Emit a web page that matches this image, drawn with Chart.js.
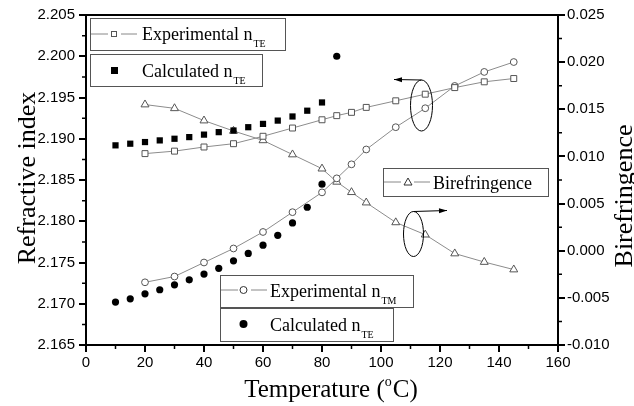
<!DOCTYPE html>
<html>
<head>
<meta charset="utf-8">
<script src="https://cdn.jsdelivr.net/npm/chart.js@4.4.0/dist/chart.umd.min.js"></script>
<style>
html, body { margin: 0; padding: 0; background: #fff; }
</style>
</head>
<body>
<canvas id="ChartIndex" width="634" height="406"></canvas>
<script>
// temperatures (oC)
var tempExp = [20, 30, 40, 50, 60, 70, 80, 85, 90, 95, 105, 115, 125, 135, 145];
var tempCalc = [10, 15, 20, 25, 30, 35, 40, 45, 50, 55, 60, 65, 70, 75, 80];
var tempCalcTM = [10, 15, 20, 25, 30, 35, 40, 45, 50, 55, 60, 65, 70, 75, 80, 85];

// refractive index
var expTE = [2.1882, 2.1885, 2.1890, 2.1894, 2.1903, 2.1913, 2.1923, 2.1928, 2.1932, 2.1938, 2.1946, 2.1954, 2.1962, 2.1969, 2.1973];
var calcTE = [2.1892, 2.1894, 2.1896, 2.1898, 2.1900, 2.1902, 2.1905, 2.1908, 2.1910, 2.1914, 2.1918, 2.1922, 2.1927, 2.1934, 2.1944];
var expTM = [2.1726, 2.1733, 2.1750, 2.1767, 2.1787, 2.1811, 2.1835, 2.1852, 2.1869, 2.1887, 2.1914, 2.1937, 2.1964, 2.1981, 2.1993];
var calcTM = [2.1702, 2.1706, 2.1712, 2.1717, 2.1723, 2.1729, 2.1736, 2.1743, 2.1752, 2.1761, 2.1771, 2.1783, 2.1798, 2.1817, 2.1845, 2.2000];

// birefringence (right axis)
var biref = [0.0155, 0.0151, 0.0138, 0.0127, 0.0117, 0.0102, 0.0087, 0.0073, 0.0062, 0.0051, 0.0030, 0.0017, -0.0003, -0.0012, -0.0020];

// axis ticks
var xTicks = [0, 20, 40, 60, 80, 100, 120, 140, 160];
var yTicks = [2.165, 2.170, 2.175, 2.180, 2.185, 2.190, 2.195, 2.200, 2.205];
var y1Ticks = [-0.010, -0.005, 0.000, 0.005, 0.010, 0.015, 0.020, 0.025];

function pts(xs, ys) {
    var out = [];
    for (var i = 0; i < ys.length; i++) out.push({x: xs[i], y: ys[i]});
    return out;
}

function setTicks(list) {
    return function(scale) {
        scale.ticks = list.map(function(v) { return {value: v}; });
    };
}

var serif = '"Liberation Serif", "Times New Roman", serif';

function subText(ctx, x, y, main, sub) {
    ctx.font = '18px ' + serif;
    ctx.fillText(main, x, y);
    var w = ctx.measureText(main).width;
    ctx.font = '10px ' + serif;
    ctx.fillText(sub, x + w + 1, y + 7);
}

function legendBox(ctx, x, y, w, h) {
    ctx.fillStyle = '#fff';
    ctx.fillRect(x, y, w, h);
    ctx.strokeStyle = '#555';
    ctx.lineWidth = 1;
    ctx.strokeRect(x + 0.5, y + 0.5, w, h);
}

function legendLine(ctx, x, y) {
    ctx.strokeStyle = '#888';
    ctx.lineWidth = 1;
    ctx.beginPath();
    ctx.moveTo(x, y); ctx.lineTo(x + 17, y);
    ctx.moveTo(x + 30, y); ctx.lineTo(x + 46, y);
    ctx.stroke();
}

function arrow(ctx, x1, y1, x2, y2) {
    ctx.strokeStyle = '#000';
    ctx.fillStyle = '#000';
    ctx.lineWidth = 1;
    ctx.beginPath();
    ctx.moveTo(x1, y1); ctx.lineTo(x2, y2);
    ctx.stroke();
    var a = Math.atan2(y2 - y1, x2 - x1);
    ctx.beginPath();
    ctx.moveTo(x2, y2);
    ctx.lineTo(x2 - 8 * Math.cos(a) + 2.5 * Math.sin(a), y2 - 8 * Math.sin(a) - 2.5 * Math.cos(a));
    ctx.lineTo(x2 - 8 * Math.cos(a) - 2.5 * Math.sin(a), y2 - 8 * Math.sin(a) + 2.5 * Math.cos(a));
    ctx.closePath();
    ctx.fill();
}

var extras = {
    id: 'extras',
    afterDraw: function(chart) {
        var ctx = chart.ctx;
        var area = chart.chartArea;
        var sx = chart.scales.x, sy = chart.scales.y, sy1 = chart.scales.y1;
        ctx.save();

        // top frame line
        ctx.strokeStyle = '#000';
        ctx.lineWidth = 2;
        ctx.beginPath();
        ctx.moveTo(area.left - 1, area.top);
        ctx.lineTo(area.right + 1, area.top);
        ctx.stroke();

        // minor ticks
        ctx.lineWidth = 1.5;
        ctx.beginPath();
        for (var i = 0; i < xTicks.length - 1; i++) {
            var px = sx.getPixelForValue((xTicks[i] + xTicks[i + 1]) / 2);
            ctx.moveTo(px, area.bottom); ctx.lineTo(px, area.bottom + 4);
        }
        for (var j = 0; j < yTicks.length - 1; j++) {
            var py = sy.getPixelForValue((yTicks[j] + yTicks[j + 1]) / 2);
            ctx.moveTo(area.left, py); ctx.lineTo(area.left - 4, py);
        }
        for (var k = 0; k < y1Ticks.length - 1; k++) {
            var py1 = sy1.getPixelForValue((y1Ticks[k] + y1Ticks[k + 1]) / 2);
            ctx.moveTo(area.right, py1); ctx.lineTo(area.right + 4, py1);
        }
        ctx.stroke();

        // axis titles
        ctx.fillStyle = '#000';
        ctx.textBaseline = 'alphabetic';
        ctx.textAlign = 'center';
        ctx.save();
        ctx.translate(35, 178);
        ctx.rotate(-Math.PI / 2);
        ctx.font = '26px ' + serif;
        ctx.fillText('Refractive index', 0, 0);
        ctx.restore();

        ctx.save();
        ctx.translate(632, 196);
        ctx.rotate(-Math.PI / 2);
        ctx.font = '26px ' + serif;
        ctx.fillText('Birefringence', 0, 0);
        ctx.restore();

        ctx.textAlign = 'left';
        ctx.font = '25px ' + serif;
        var t1 = 'Temperature (', t2 = 'C)';
        var w1 = ctx.measureText(t1).width;
        var w3 = ctx.measureText(t2).width;
        ctx.font = '14px ' + serif;
        var w2 = ctx.measureText('o').width;
        var tx = 331 - (w1 + w2 + w3 + 1) / 2;
        ctx.font = '25px ' + serif;
        ctx.fillText(t1, tx, 397);
        ctx.font = '14px ' + serif;
        ctx.fillText('o', tx + w1, 386);
        ctx.font = '25px ' + serif;
        ctx.fillText(t2, tx + w1 + w2 + 1, 397);

        // legends
        legendBox(ctx, 90, 18, 195, 32);
        legendLine(ctx, 91, 34);
        ctx.fillStyle = '#fff'; ctx.strokeStyle = '#555';
        ctx.fillRect(111, 31, 6, 6); ctx.strokeRect(111.5, 31.5, 5, 5);
        ctx.fillStyle = '#000';
        subText(ctx, 142, 40, 'Experimental n', 'TE');

        legendBox(ctx, 90, 54, 172, 32);
        ctx.fillStyle = '#000';
        ctx.fillRect(111, 67, 7, 7);
        subText(ctx, 142, 77, 'Calculated n', 'TE');

        legendBox(ctx, 383, 168, 165, 28);
        legendLine(ctx, 384, 182);
        ctx.strokeStyle = '#333'; ctx.lineWidth = 1;
        ctx.beginPath();
        ctx.moveTo(408, 178); ctx.lineTo(412, 185); ctx.lineTo(404, 185); ctx.closePath();
        ctx.stroke();
        ctx.fillStyle = '#000';
        ctx.font = '18px ' + serif;
        ctx.fillText('Birefringence', 433, 189);

        legendBox(ctx, 220, 275, 193, 32);
        legendLine(ctx, 221, 290);
        ctx.strokeStyle = '#333';
        ctx.beginPath(); ctx.arc(243.5, 290, 3.5, 0, Math.PI * 2); ctx.fillStyle = '#fff'; ctx.fill(); ctx.stroke();
        ctx.fillStyle = '#000';
        subText(ctx, 270, 297, 'Experimental n', 'TM');

        legendBox(ctx, 220, 308, 173, 33);
        ctx.fillStyle = '#000';
        ctx.beginPath(); ctx.arc(243.5, 324, 4, 0, Math.PI * 2); ctx.fill();
        subText(ctx, 270, 331, 'Calculated n', 'TE');

        // ellipses and arrows
        ctx.strokeStyle = '#000'; ctx.lineWidth = 1;
        ctx.beginPath(); ctx.ellipse(421.5, 105.5, 11, 25.5, 0, 0, Math.PI * 2); ctx.stroke();
        arrow(ctx, 421.5, 80, 394, 79.5);
        ctx.beginPath(); ctx.ellipse(413.5, 234, 10, 22.5, 0, 0, Math.PI * 2); ctx.stroke();
        arrow(ctx, 413.5, 211.5, 447, 210.5);

        ctx.restore();
    }
};

var data = {
    datasets: [{
        label: 'Experimental nTE',
        data: pts(tempExp, expTE),
        showLine: true,
        borderColor: '#8c8c8c',
        borderWidth: 1,
        pointStyle: 'rect',
        pointRadius: 4.2,
        pointBackgroundColor: '#fff',
        pointBorderColor: '#555',
        pointBorderWidth: 1,
        yAxisID: 'y'
    },
    {
        label: 'Calculated nTE',
        data: pts(tempCalc, calcTE),
        showLine: false,
        pointStyle: 'rect',
        pointRadius: 4.4,
        pointBackgroundColor: '#000',
        pointBorderColor: '#000',
        pointBorderWidth: 0,
        yAxisID: 'y'
    },
    {
        label: 'Experimental nTM',
        data: pts(tempExp, expTM),
        showLine: true,
        borderColor: '#8c8c8c',
        borderWidth: 1,
        pointStyle: 'circle',
        pointRadius: 3.4,
        pointBackgroundColor: '#fff',
        pointBorderColor: '#555',
        pointBorderWidth: 1,
        yAxisID: 'y'
    },
    {
        label: 'Calculated nTM',
        data: pts(tempCalcTM, calcTM),
        showLine: false,
        pointStyle: 'circle',
        pointRadius: 3.6,
        pointBackgroundColor: '#000',
        pointBorderColor: '#000',
        pointBorderWidth: 0,
        yAxisID: 'y'
    },
    {
        label: 'Birefringence',
        data: pts(tempExp, biref),
        showLine: true,
        borderColor: '#8c8c8c',
        borderWidth: 1,
        pointStyle: 'triangle',
        pointRadius: 4.6,
        pointBackgroundColor: '#fff',
        pointBorderColor: '#555',
        pointBorderWidth: 1,
        yAxisID: 'y1'
    }]
};

var tickFont = {family: '"Liberation Sans", Arial, sans-serif', size: 15};

var config = {
    type: 'scatter',
    data: data,
    options: {
        responsive: false,
        devicePixelRatio: 1,
        animation: false,
        layout: {padding: {top: 15, left: 0, right: 0, bottom: 0}},
        plugins: {legend: {display: false}, tooltip: {enabled: false}},
        scales: {
            x: {
                type: 'linear',
                min: 0, max: 160,
                afterBuildTicks: setTicks(xTicks),
                afterFit: function(s) { s.height = 61; },
                grid: {drawOnChartArea: false, drawTicks: true, tickLength: 7, color: '#000', lineWidth: 2},
                border: {display: true, color: '#000', width: 2},
                ticks: {color: '#000', font: tickFont, padding: 2, maxRotation: 0, autoSkip: false}
            },
            y: {
                position: 'left',
                min: 2.165, max: 2.205,
                afterBuildTicks: setTicks(yTicks),
                afterFit: function(s) { s.width = 86; },
                grid: {drawOnChartArea: false, drawTicks: true, tickLength: 7, color: '#000', lineWidth: 2},
                border: {display: true, color: '#000', width: 2},
                ticks: {color: '#000', font: tickFont, padding: 4, autoSkip: false,
                    callback: function(v) { return v.toFixed(3); }}
            },
            y1: {
                position: 'right',
                min: -0.010, max: 0.025,
                afterBuildTicks: setTicks(y1Ticks),
                afterFit: function(s) { s.width = 76; },
                grid: {drawOnChartArea: false, drawTicks: true, tickLength: 7, color: '#000', lineWidth: 2},
                border: {display: true, color: '#000', width: 2},
                ticks: {color: '#000', font: tickFont, padding: 2, autoSkip: false,
                    callback: function(v) { return v.toFixed(3); }}
            }
        }
    },
    plugins: [extras]
};

const myChart = new Chart(document.getElementById('ChartIndex'), config);
</script>
</body>
</html>
